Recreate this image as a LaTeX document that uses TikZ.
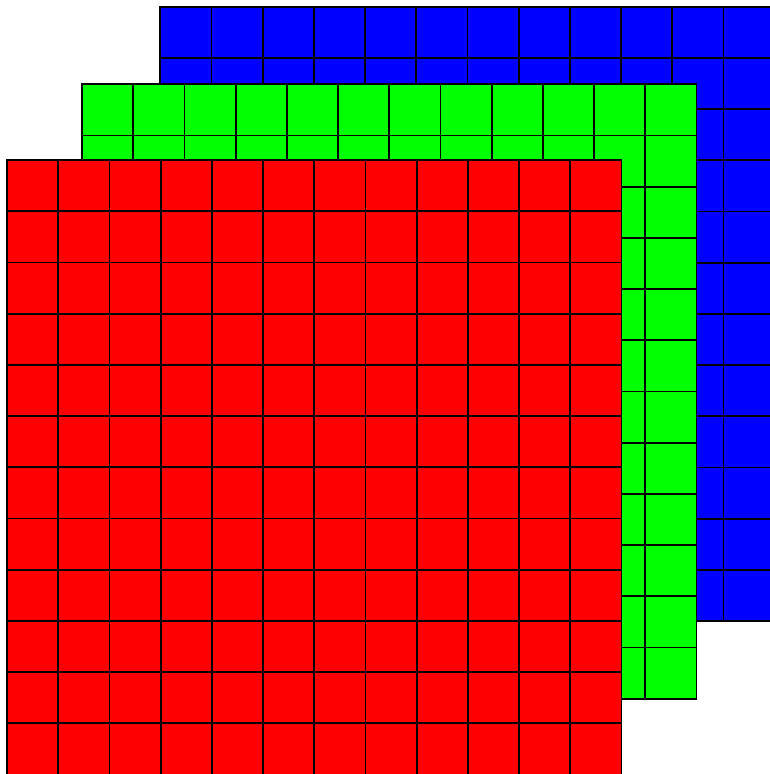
\documentclass[tikz,border=0pt]{standalone}
\begin{document}
\begin{tikzpicture}[x=1pt,y=-1pt,line width=1.8pt,gridline/.style={draw=black,line cap=rect}]
\useasboundingbox (0,0) rectangle (770,774);
\clip (0,0) rectangle (770,774);
\foreach \ox/\oy/\col in {160.3/6.7/blue, 82/84.3/green, 7/160/red} {
  \fill[\col] (\ox,\oy) rectangle ++(614.4,614.4);
  \foreach \i in {0,...,12} {
    \draw[gridline] (\ox+\i*51.2,\oy) -- ++(0,614.4);
    \draw[gridline] (\ox,\oy+\i*51.2) -- ++(614.4,0);
  }
}
\end{tikzpicture}
\end{document}
